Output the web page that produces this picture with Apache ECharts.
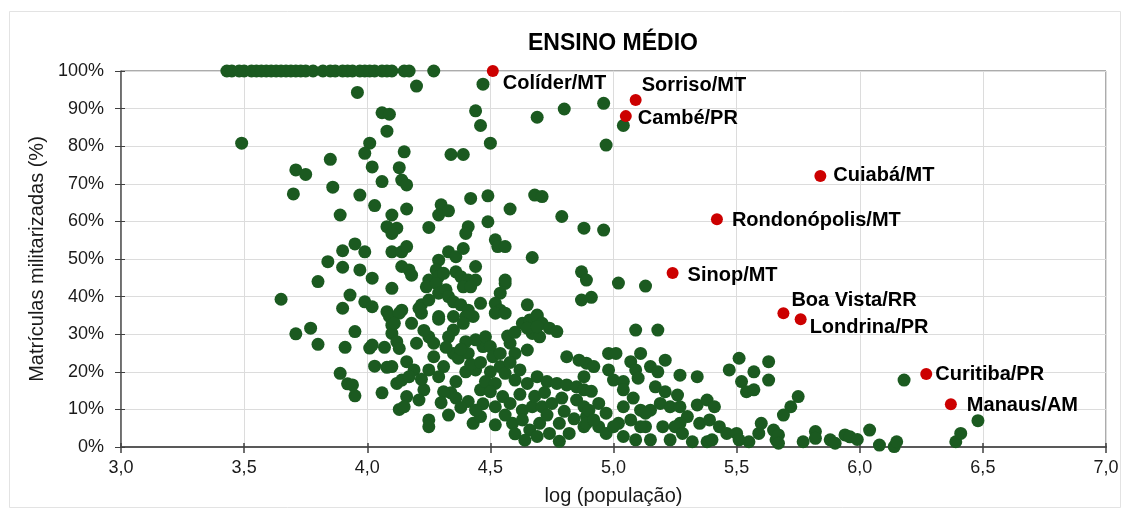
<!DOCTYPE html>
<html lang="pt">
<head>
    <meta charset="UTF-8">
    <title>Ensino Médio</title>
    <style>
        html, body { margin: 0; padding: 0; background: #fff; }
        .container { width: 1130px; height: 519px; }
    </style>
    <script src="https://cdn.jsdelivr.net/npm/echarts@6/dist/echarts.min.js"></script>
</head>
<body>
    <div class="container"></div>
    <script>
        // municípios em destaque (vermelho)
        const cityNames = ['Colíder/MT', 'Sorriso/MT', 'Cambé/PR', 'Cuiabá/MT', 'Rondonópolis/MT',
            'Sinop/MT', 'Boa Vista/RR', 'Londrina/PR', 'Curitiba/PR', 'Manaus/AM'];
        const cityLogPop = [4.51, 5.09, 5.05, 5.84, 5.42, 5.24, 5.69, 5.76, 6.27, 6.37];
        const cityPct = [100, 92.3, 88.0, 72.1, 60.6, 46.3, 35.6, 34.0, 19.4, 11.4];

        // municípios com 100% (linha do topo)
        const fullLogPop = [3.43, 3.45, 3.48, 3.50, 3.53, 3.55, 3.57, 3.59, 3.61, 3.63, 3.65, 3.67, 3.69,
            3.71, 3.73, 3.75, 3.78, 3.82, 3.85, 3.87, 3.90, 3.92, 3.94, 3.97, 3.99, 4.01, 4.03, 4.06,
            4.08, 4.10, 4.15, 4.17, 4.27];

        // demais municípios [log(pop), %]
        const otherPoints = [
            [4.20,96.0],[3.96,94.3],[4.47,96.5],[3.49,80.8],[4.06,88.9],[4.09,88.5],[4.08,84.0],[4.44,89.4],
            [4.46,85.5],[4.50,80.8],[4.69,87.7],[4.80,89.9],[4.96,91.4],[4.97,80.3],[5.04,85.5],[4.01,80.8],
            [3.99,78.1],[4.15,78.5],[4.34,77.8],[4.39,77.8],[3.85,76.5],[3.71,73.7],[3.75,72.5],[4.02,74.5],
            [4.13,74.3],[4.06,70.6],[4.14,71.0],[4.16,69.7],[3.70,67.3],[3.86,69.1],[3.97,67.0],[4.03,64.2],
            [4.16,63.3],[3.89,61.7],[4.10,61.7],[4.08,58.6],[4.12,58.2],[4.10,56.8],[4.25,58.4],[4.30,64.4],
            [4.29,61.7],[4.33,62.8],[4.42,66.1],[4.49,66.8],[4.68,67.0],[4.71,66.6],[4.58,63.3],[4.41,58.6],
            [4.40,56.8],[4.49,59.9],[4.79,61.3],[4.88,58.2],[4.96,57.7],
            [3.95,54.0],[3.90,52.2],[3.99,51.9],[4.10,51.9],[4.14,51.9],[4.16,53.3],[3.84,49.3],[3.90,47.8],
            [3.97,47.1],[4.02,44.9],[3.80,44.0],[4.14,48.0],[4.17,47.1],[4.18,45.7],[4.10,42.2],[3.65,39.3],
            [3.93,40.4],[3.99,38.6],[4.02,37.3],[3.90,36.9],[4.08,36.0],[4.14,36.4],
            [4.52,55.1],[4.53,53.3],[4.56,53.3],[4.67,50.4],
            [4.33,51.9],[4.36,50.6],[4.39,52.8],[4.29,49.7],[4.28,47.1],[4.25,44.4],[4.24,42.6],[4.29,45.3],
            [4.31,46.2],[4.28,43.5],[4.36,46.6],[4.38,45.3],[4.41,44.4],[4.39,42.6],[4.44,44.4],[4.42,42.6],
            [4.44,48.0],[4.29,40.9],[4.32,41.8],[4.33,40.0],[4.35,38.6],[4.22,37.8],[4.25,39.1],[4.38,37.8],
            [4.41,36.4],[4.43,34.7],[4.46,38.2],[4.54,40.9],[4.56,43.5],[4.56,44.4],[4.52,38.2],[4.54,36.4],
            [4.65,37.8],[4.69,35.1],[4.87,46.6],[4.89,44.4],[4.87,39.1],[4.91,39.8],[5.02,43.6],[5.13,42.8],
            [4.09,34.7],[4.13,35.6],[4.22,35.6],[4.21,36.9],[4.29,34.7],[4.35,34.7],[4.40,34.7],
            [3.71,30.1],[3.77,31.6],[3.80,27.3],[3.95,30.7],[3.91,26.5],[4.01,26.3],[4.02,27.1],[4.07,26.5],
            [4.10,32.4],[4.10,30.2],[4.12,28.0],[4.03,21.5],[4.08,21.2],[3.89,19.6],[3.92,16.8],[3.94,16.5],
            [3.95,13.6],[4.06,14.4],[4.12,16.9],[4.13,10.0],[4.34,14.4],
            [4.11,32.9],[4.18,32.9],[4.29,34.0],[4.35,31.1],[4.39,32.9],[4.33,29.3],[4.25,29.3],[4.27,27.6],
            [4.20,27.6],[4.13,26.2],[4.10,21.4],[4.16,22.7],[4.19,20.5],[4.25,20.5],[4.31,21.4],[4.35,24.9],
            [4.37,23.6],[4.41,24.9],[4.47,26.7],[4.44,28.5],[4.40,28.0],[4.48,29.3],[4.14,17.8],[4.17,18.7],
            [4.23,15.2],[4.29,18.7],[4.31,14.7],[4.36,17.4],[4.40,20.0],[4.46,15.2],[4.44,20.5],[4.36,13.0],
            [4.41,12.1],[4.16,13.4],[4.15,10.7],[4.25,7.2],[4.25,5.4],[4.43,6.3],[4.46,8.1],[4.52,5.9],
            [4.32,26.5],[4.38,26.0],[4.42,22.0],[4.46,22.5],[4.47,11.5],[4.44,9.8],[4.38,10.5],[4.33,8.5],
            [4.30,11.8],[4.21,12.5],[4.22,18.0],[4.27,24.0],[4.23,31.0],
            [4.52,35.6],[4.56,35.6],[4.50,26.7],[4.51,24.0],[4.54,24.9],[4.58,27.6],[4.60,24.9],[4.65,25.8],
            [4.63,32.9],[4.66,33.8],[4.69,34.7],[4.71,32.9],[4.74,31.6],[4.77,30.7],[4.67,30.2],[4.70,29.3],
            [4.65,31.6],[4.69,32.0],[4.81,24.0],[4.54,21.4],[4.56,19.6],[4.50,20.0],[4.48,17.4],[4.52,16.9],
            [4.60,17.8],[4.65,16.9],[4.69,18.7],[4.73,17.4],[4.77,16.9],[4.81,16.5],[4.85,16.0],[4.88,18.7],
            [4.50,14.7],[4.55,13.4],[4.52,10.7],[4.58,11.6],[4.63,9.8],[4.67,10.7],[4.71,10.7],[4.75,11.6],
            [4.79,13.0],[4.85,12.5],[4.59,6.3],[4.63,7.2],[4.66,4.5],[4.70,6.3],[4.74,3.6],[4.78,6.3],
            [4.82,3.6],[4.88,5.4],[4.89,8.1],[4.69,2.8],
            [4.57,29.5],[4.60,30.5],[4.62,20.5],[4.58,22.5],[4.62,14.0],[4.68,13.5],[4.72,14.5],[4.56,8.5],
            [4.60,3.5],[4.64,1.8],[4.73,8.5],[4.80,9.5],[4.84,7.5],[4.78,1.5],
            [5.09,31.1],[5.18,31.1],[4.98,24.9],[5.01,24.9],[5.07,22.7],[5.11,24.9],[4.89,22.3],[4.92,21.4],
            [4.86,23.1],[4.98,20.5],[5.00,17.8],[5.04,17.4],[5.09,20.5],[5.10,18.3],[5.15,21.4],[5.18,20.0],
            [5.21,23.1],[5.17,16.0],[5.27,19.1],[5.34,18.7],[4.88,15.2],[4.91,14.8],[5.04,15.2],[5.08,13.0],
            [4.88,10.7],[4.94,11.6],[4.97,9.0],[5.04,10.7],[5.11,9.8],[5.15,9.8],[5.19,11.6],[5.23,10.7],
            [5.26,13.8],[5.27,10.7],[5.30,8.1],[5.34,11.2],[5.38,12.5],[5.41,10.7],[5.35,6.3],[5.39,7.2],
            [5.43,5.4],[5.46,3.6],[5.50,3.6],[4.89,6.3],[4.94,5.4],[5.02,6.3],[5.04,2.8],[5.09,1.9],
            [5.13,5.4],[5.15,1.9],[5.20,5.4],[5.23,1.9],[5.27,6.3],[5.32,1.4],[5.38,1.4],[5.40,1.9],
            [5.21,14.7],[5.25,5.4],[5.28,3.6],[4.90,9.8],[4.92,7.2],[4.97,3.6],[5.00,5.4],[5.07,7.2],
            [5.11,5.4],[5.13,9.0],
            [5.47,20.5],[5.51,23.6],[5.52,17.4],[5.54,14.7],[5.57,15.2],[5.57,20.0],[5.63,22.7],[5.63,17.8],
            [5.60,6.3],[5.59,3.6],[5.55,1.4],[5.51,1.9],[5.65,4.5],[5.66,1.9],
            [5.75,13.4],[5.72,10.7],[5.69,8.5],[5.67,3.2],[5.67,1.0],[5.77,1.4],[5.82,4.1],[5.82,2.3],
            [5.88,1.9],[5.90,1.0],[5.94,3.2],[5.96,2.7],[5.99,2.0],[6.04,4.5],[6.08,0.5],[6.14,0.1],
            [6.15,1.4],[6.18,17.8],[6.39,1.4],[6.41,3.6],[6.48,7.0]
        ];

        // posição dos rótulos (ajuste fino em px)
        const labelOffsets = [[0,12],[-4,-14],[2,2],[3,0],[5,1],[5,3],[-2,-13],[-1,8],[-1,0],[6,1]];

        const FONT = 'Liberation Sans, Arial, sans-serif';
        const GREEN = '#1b5a20';
        const RED = '#cc0000';
        const INK = '#1a1a1a';

        const greenData = fullLogPop.map(x => [x, 100]).concat(otherPoints);
        const redData = cityNames.map((n, i) => ({
            name: n,
            value: [cityLogPop[i], cityPct[i]],
            label: { offset: labelOffsets[i] }
        }));

        const chart = echarts.init(document.getElementsByClassName('container')[0]);
        chart.setOption({
            animation: false,
            backgroundColor: '#fff',
            textStyle: { fontFamily: FONT },
            title: {
                text: 'ENSINO MÉDIO',
                left: 608,
                top: 27,
                textAlign: 'center',
                textStyle: { fontSize: 23, fontWeight: 'bold', color: '#000', fontFamily: FONT }
            },
            graphic: [{
                type: 'rect',
                shape: { x: 9.5, y: 11.5, width: 1111, height: 496 },
                style: { fill: 'none', stroke: '#e3e3e3', lineWidth: 1 },
                silent: true
            }],
            grid: {
                left: 121, right: 24, top: 71, bottom: 72,
                show: true, borderColor: '#595959', borderWidth: 1
            },
            xAxis: [{
                type: 'value', min: 3, max: 7, interval: 0.5,
                name: 'log (população)', nameLocation: 'middle', nameGap: 39,
                nameTextStyle: { fontSize: 20, color: INK, fontFamily: FONT },
                axisLine: { show: true, onZero: false, lineStyle: { color: '#595959', width: 2 } },
                axisTick: { show: true, length: 6, lineStyle: { color: '#404040', width: 1.5 } },
                axisLabel: {
                    fontSize: 18, color: INK, margin: 12,
                    formatter: v => v.toFixed(1).replace('.', ',')
                },
                splitLine: { show: true, lineStyle: { color: '#dcdcdc' } }
            }, {
                type: 'value', min: 3, max: 7, interval: 0.5, position: 'bottom',
                axisLine: { show: false },
                axisTick: { show: true, inside: true, length: 4, lineStyle: { color: '#404040', width: 1.5 } },
                axisLabel: { show: false },
                splitLine: { show: false }
            }],
            yAxis: [{
                type: 'value', min: 0, max: 100, interval: 10,
                name: 'Matrículas militarizadas (%)', nameLocation: 'middle', nameGap: 74,
                nameTextStyle: { fontSize: 20, color: INK, fontFamily: FONT },
                axisLine: { show: true, onZero: false, lineStyle: { color: '#595959', width: 1.5 } },
                axisTick: { show: true, length: 6, lineStyle: { color: '#404040' } },
                axisLabel: { fontSize: 18, color: INK, margin: 17, formatter: v => v + '%' },
                splitLine: { show: true, lineStyle: { color: '#dcdcdc' } }
            }, {
                type: 'value', min: 0, max: 100, interval: 10, position: 'left',
                axisLine: { show: false },
                axisTick: { show: true, inside: true, length: 4, lineStyle: { color: '#404040' } },
                axisLabel: { show: false },
                splitLine: { show: false }
            }],
            series: [{
                type: 'scatter',
                symbolSize: 13,
                itemStyle: { color: GREEN, opacity: 1 },
                data: greenData
            }, {
                type: 'scatter',
                symbolSize: 12,
                itemStyle: { color: RED, opacity: 1 },
                z: 5,
                label: {
                    show: true,
                    position: 'right',
                    distance: 4,
                    formatter: p => p.name,
                    fontSize: 20,
                    fontWeight: 'bold',
                    color: '#000',
                    fontFamily: FONT
                },
                data: redData
            }]
        });
    </script>
</body>
</html>
